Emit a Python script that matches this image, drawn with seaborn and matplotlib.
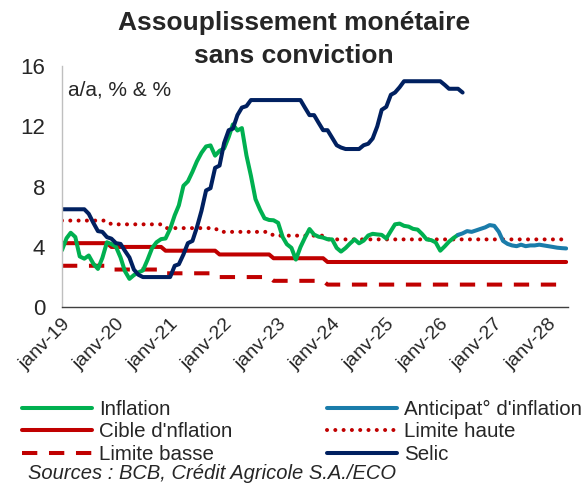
import numpy as np
import pandas as pd
import matplotlib
matplotlib.use("Agg")
import matplotlib.pyplot as plt
import seaborn as sns

# Données mensuelles (départ janv-19)
start = "2019-01-01"

inflation = [
    3.78, 4.58, 4.94, 4.66, 3.37, 3.22, 3.43, 2.89, 2.54, 3.27, 4.31, 4.19,
    4.01, 3.30, 2.40, 1.88, 2.13, 2.31, 2.44, 3.14, 3.92, 4.31, 4.52, 4.56,
    5.20, 6.10, 6.76, 8.06, 8.35, 8.99, 9.68, 10.25, 10.67, 10.74, 10.06, 10.38,
    10.54, 11.30, 12.13, 11.73, 11.89, 10.07, 8.73, 7.17, 6.47, 5.90, 5.79, 5.77,
    5.60, 4.65, 4.18, 3.94, 3.16, 3.99, 4.61, 5.19, 4.82, 4.68, 4.62, 4.51,
    4.50, 3.93, 3.69, 3.93, 4.23, 4.50, 4.24, 4.42, 4.76, 4.87, 4.83, 4.80,
    4.56, 5.06, 5.50, 5.55, 5.40, 5.35, 5.20, 5.15, 4.85, 4.50, 4.45, 4.30,
    3.75, 4.05, 4.35, 4.60, 4.80,
]

# anticipations : commencent au dernier point d'inflation
anticipation_debut = 88
anticipation = [
    4.80, 4.90, 5.05, 5.00, 5.10, 5.20, 5.30, 5.45, 5.40, 5.00, 4.40, 4.20,
    4.10, 4.05, 4.15, 4.05, 4.10, 4.10, 4.15, 4.10, 4.05, 4.00, 3.95, 3.92,
    3.90,
]

selic = [
    6.50, 6.50, 6.50, 6.50, 6.50, 6.50, 6.20, 5.60, 5.05, 5.00, 4.65, 4.55,
    4.25, 4.20, 3.75, 3.30, 2.50, 2.15, 2.00, 2.00, 2.00, 2.00, 2.00, 2.00,
    2.00, 2.75, 2.85, 3.50, 4.25, 4.40, 5.30, 6.40, 7.75, 7.90, 9.25, 9.40,
    10.90, 11.75, 11.85, 12.75, 13.25, 13.35, 13.75, 13.75, 13.75, 13.75, 13.75, 13.75,
    13.75, 13.75, 13.75, 13.75, 13.75, 13.75, 13.25, 12.75, 12.75, 12.25, 11.75, 11.75,
    11.25, 10.75, 10.60, 10.50, 10.50, 10.50, 10.50, 10.75, 10.85, 11.20, 12.00, 13.10,
    13.30, 14.10, 14.25, 14.60, 15.00, 15.00, 15.00, 15.00, 15.00, 15.00, 15.00, 15.00,
    15.00, 14.75, 14.50, 14.50, 14.50, 14.25,
]

cible = ([4.25] * 11 + [4.00] * 12 + [3.75] * 12 + [3.50] * 12
         + [3.25] * 12 + [3.00] * 54)
bande = 1.5  # marge de tolérance autour de la cible

tick_labels = ["janv-19", "janv-20", "janv-21", "janv-22", "janv-23",
               "janv-24", "janv-25", "janv-26", "janv-27", "janv-28"]

months = pd.date_range(start, periods=len(cible), freq="MS")
limite_haute = np.array(cible) + bande
limite_basse = np.array(cible) - bande

VERT = "#00B050"
BLEU = "#1A7CAA"
ROUGE = "#C00000"
MARINE = "#002060"
LW = 2.9

sns.set_style("white")
plt.rcParams["font.family"] = ["Liberation Sans", "DejaVu Sans"]

fig = plt.figure(figsize=(5.88, 4.83), dpi=100)
ax = fig.add_axes([0.1054, 0.364, 0.8605, 0.499])

sns.lineplot(x=months, y=cible, ax=ax, color=ROUGE, lw=LW, label="Cible d'nflation")
sns.lineplot(x=months, y=limite_haute, ax=ax, color=ROUGE, lw=LW,
             label="Limite haute")
ax.lines[-1].set_dashes((0.01, 2.05))
ax.lines[-1].set_dash_capstyle("round")
sns.lineplot(x=months, y=limite_basse, ax=ax, color=ROUGE, lw=LW,
             label="Limite basse")
ax.lines[-1].set_dashes((3.8, 2.9))
sns.lineplot(x=months[:len(inflation)], y=inflation, ax=ax, color=VERT, lw=LW,
             label="Inflation")
sns.lineplot(x=months[anticipation_debut:anticipation_debut + len(anticipation)],
             y=anticipation, ax=ax, color=BLEU, lw=LW,
             label="Anticipat° d'inflation")
sns.lineplot(x=months[:len(selic)], y=selic, ax=ax, color=MARINE, lw=LW,
             label="Selic")

ax.set_xlim(months[0], months[-1] + pd.Timedelta(days=12))
ax.set_ylim(0, 16)
ax.set_yticks([0, 4, 8, 12, 16])
ax.set_xticks(months[::12][:len(tick_labels)])
ax.set_xticklabels(tick_labels, rotation=45, ha="right",
                   rotation_mode="anchor", fontsize=14)
ax.tick_params(axis="y", labelsize=16, length=0, pad=12)
ax.tick_params(axis="x", length=0, pad=6)
ax.set_xlabel("")
ax.set_ylabel("")

for s in ["top", "right"]:
    ax.spines[s].set_visible(False)
ax.spines["left"].set_color("#BFBFBF")
ax.spines["left"].set_linewidth(1)
ax.spines["bottom"].set_color("#404040")
ax.spines["bottom"].set_linewidth(1)

ax.text(0.012, 0.90, "a/a, % & %", transform=ax.transAxes, fontsize=15,
        va="center", ha="left")

fig.text(0.5, 0.952, "Assouplissement monétaire", ha="center", va="center",
         fontsize=19, fontweight="bold")
fig.text(0.5, 0.884, "sans conviction", ha="center", va="center",
         fontsize=19, fontweight="bold")

# légende sur deux colonnes, dans l'ordre du graphique d'origine
handles, labels = ax.get_legend_handles_labels()
ax.get_legend().remove()
ordre = ["Inflation", "Cible d'nflation", "Limite basse",
         "Anticipat° d'inflation", "Limite haute", "Selic"]
h = [handles[labels.index(o)] for o in ordre]
fig.legend(h, ordre, ncol=2, loc="upper left", bbox_to_anchor=(0.037, 0.172),
           frameon=False, fontsize=14.8, handlelength=3.4, handletextpad=0.35,
           columnspacing=4.6, labelspacing=0.17, borderpad=0, borderaxespad=0)

fig.text(0.048, 0.020, "Sources : BCB, Crédit Agricole S.A./ECO", fontsize=14.5,
         style="italic", va="center", ha="left")

fig.savefig("out.png", dpi=100)
